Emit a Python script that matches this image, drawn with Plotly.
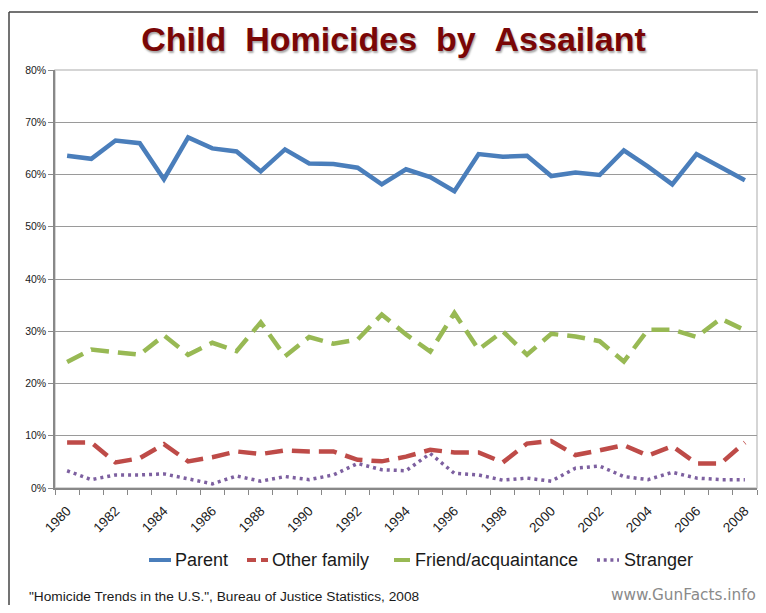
import plotly.graph_objects as go

years = list(range(1980, 2009))
parent = [63.6, 63.0, 66.5, 66.0, 59.1, 67.1, 65.0, 64.4, 60.6, 64.8,
          62.1, 62.0, 61.3, 58.1, 61.0, 59.5, 56.8, 63.9, 63.4, 63.6,
          59.7, 60.4, 59.9, 64.6, 61.5, 58.1, 63.9, 61.4, 58.9]
other_family = [8.7, 8.7, 4.9, 5.7, 8.4, 5.1, 5.9, 7.0, 6.5, 7.2,
                7.0, 7.0, 5.4, 5.1, 6.0, 7.3, 6.8, 6.8, 4.9, 8.5,
                9.0, 6.3, 7.2, 8.2, 6.2, 8.0, 4.7, 4.7, 8.7]
friend = [24.1, 26.5, 26.0, 25.5, 29.2, 25.5, 27.8, 26.2, 31.7, 25.2,
          28.9, 27.6, 28.4, 33.2, 29.4, 26.1, 33.5, 26.5, 30.0, 25.5,
          29.5, 29.0, 28.1, 24.2, 30.3, 30.3, 28.9, 32.4, 30.2]
stranger = [3.3, 1.6, 2.5, 2.5, 2.7, 1.8, 0.8, 2.3, 1.3, 2.2,
            1.6, 2.5, 4.7, 3.5, 3.3, 6.6, 2.8, 2.5, 1.5, 1.9,
            1.3, 3.8, 4.2, 2.2, 1.6, 3.0, 1.9, 1.6, 1.6]
series_names = ["Parent", "Other family", "Friend/acquaintance", "Stranger"]
label_years = list(range(1980, 2009, 2))
y_ticks = list(range(0, 81, 10))

# page offset (body margin) of 8px; keep the figure inside the visible page
OFF = 8
W, H = 766 - 2 * OFF, 613 - 2 * OFF
# plot area in page pixels
L, R, T, B = 55, 757, 70, 488


def px_x(px):
    return (px - L) / (R - L)


def px_y(py):
    return (B - py) / (B - T)


colors = ["#4A7EBB", "#BE4B48", "#98B954", "#7D60A0"]
line_styles = [
    dict(color=colors[0], width=4.5, dash="solid"),
    dict(color=colors[1], width=4.5, dash="18px,9px"),
    dict(color=colors[2], width=4.5, dash="18px,9px"),
    dict(color=colors[3], width=3.5, dash="3px,4px"),
]

fig = go.Figure()
for name, vals, st in zip(series_names, [parent, other_family, friend, stranger], line_styles):
    fig.add_trace(go.Scatter(x=years, y=vals, mode="lines", name=name, line=st, showlegend=False))

shapes = [
    dict(type="rect", xref="paper", yref="paper", x0=0, x1=1, y0=0, y1=1,
         line=dict(color="#C8C8C8", width=1.5), layer="below"),
    dict(type="line", xref="paper", yref="paper", x0=px_x(9), x1=px_x(770), y0=px_y(12), y1=px_y(12),
         line=dict(color="#444444", width=1.5)),
    dict(type="line", xref="paper", yref="paper", x0=px_x(9), x1=px_x(9), y0=px_y(12), y1=px_y(620),
         line=dict(color="#444444", width=1.5)),
]

# legend (drawn manually to match compact swatches)
leg_y = 560
leg_swatch = [(149, 171, "solid", 4), (247, 268, "9px,5px", 4), (394, 410, "solid", 4), (597, 619, "3px,3.7px", 3.5)]
leg_text_x = [173, 270, 413, 622]
annotations = []
for (x0, x1, dash, wd), col, tx, name in zip(leg_swatch, colors, leg_text_x, series_names):
    shapes.append(dict(type="line", xref="paper", yref="paper", x0=px_x(x0), x1=px_x(x1),
                       y0=px_y(leg_y), y1=px_y(leg_y), line=dict(color=col, width=wd, dash=dash)))
    annotations.append(dict(text=name, xref="paper", yref="paper", x=px_x(tx), y=px_y(leg_y),
                            xanchor="left", yanchor="middle", showarrow=False,
                            font=dict(size=18, color="#1A1A1A")))

annotations += [
    dict(text='"Homicide Trends in the U.S.", Bureau of Justice Statistics, 2008',
         xref="paper", yref="paper", x=px_x(27), y=px_y(597), xanchor="left", yanchor="middle",
         showarrow=False, font=dict(size=13.7, color="#1A1A1A")),
    dict(text="www.GunFacts.info", xref="paper", yref="paper", x=px_x(758), y=px_y(595),
         xanchor="right", yanchor="middle", showarrow=False,
         font=dict(size=15.3, color="#8A8A8A", family="DejaVu Sans, Verdana, sans-serif")),
]

title_text = "\u00a0\u00a0".join(["Child", "Homicides", "by", "Assailant"])

fig.update_layout(
    width=W, height=H,
    margin=dict(l=L - OFF, r=W - (R - OFF), t=T - OFF, b=H - (B - OFF)),
    paper_bgcolor="white", plot_bgcolor="white",
    font=dict(family="Liberation Sans, Arial, sans-serif", color="#222222"),
    title=dict(text="<b>" + title_text + "</b>", x=(393.5 - OFF) / W, xanchor="center",
               y=1 - (39 - OFF) / H, yanchor="middle",
               font=dict(size=34, color="#7A0606", family="Liberation Sans, Arial, sans-serif",
                         shadow="1px 2px 2px rgba(0,0,0,0.35)")),
    xaxis=dict(range=[1979.5, 2008.5], tickmode="array", tickvals=label_years,
               ticktext=[str(y) for y in label_years], tickangle=-45, ticks="",
               ticklabelstandoff=8,
               tickfont=dict(size=13.5, color="#1A1A1A"),
               showgrid=False, zeroline=False, showline=True, linecolor="#888888", linewidth=1.5,
               minor=dict(tickmode="linear", tick0=1979.5, dtick=1, ticks="outside",
                          ticklen=5, tickcolor="#888888", showgrid=False)),
    yaxis=dict(range=[0, 80], tickmode="array", tickvals=y_ticks,
               ticktext=[f"{v}%" for v in y_ticks], ticks="outside", ticklen=5,
               tickcolor="#888888", tickfont=dict(size=10.5, color="#1A1A1A"),
               showgrid=True, gridcolor="#9A9A9A", gridwidth=1.2, zeroline=False,
               showline=True, linecolor="#888888", linewidth=1.5),
    showlegend=False,
    shapes=shapes,
    annotations=annotations,
)

fig.write_html("out.html")
